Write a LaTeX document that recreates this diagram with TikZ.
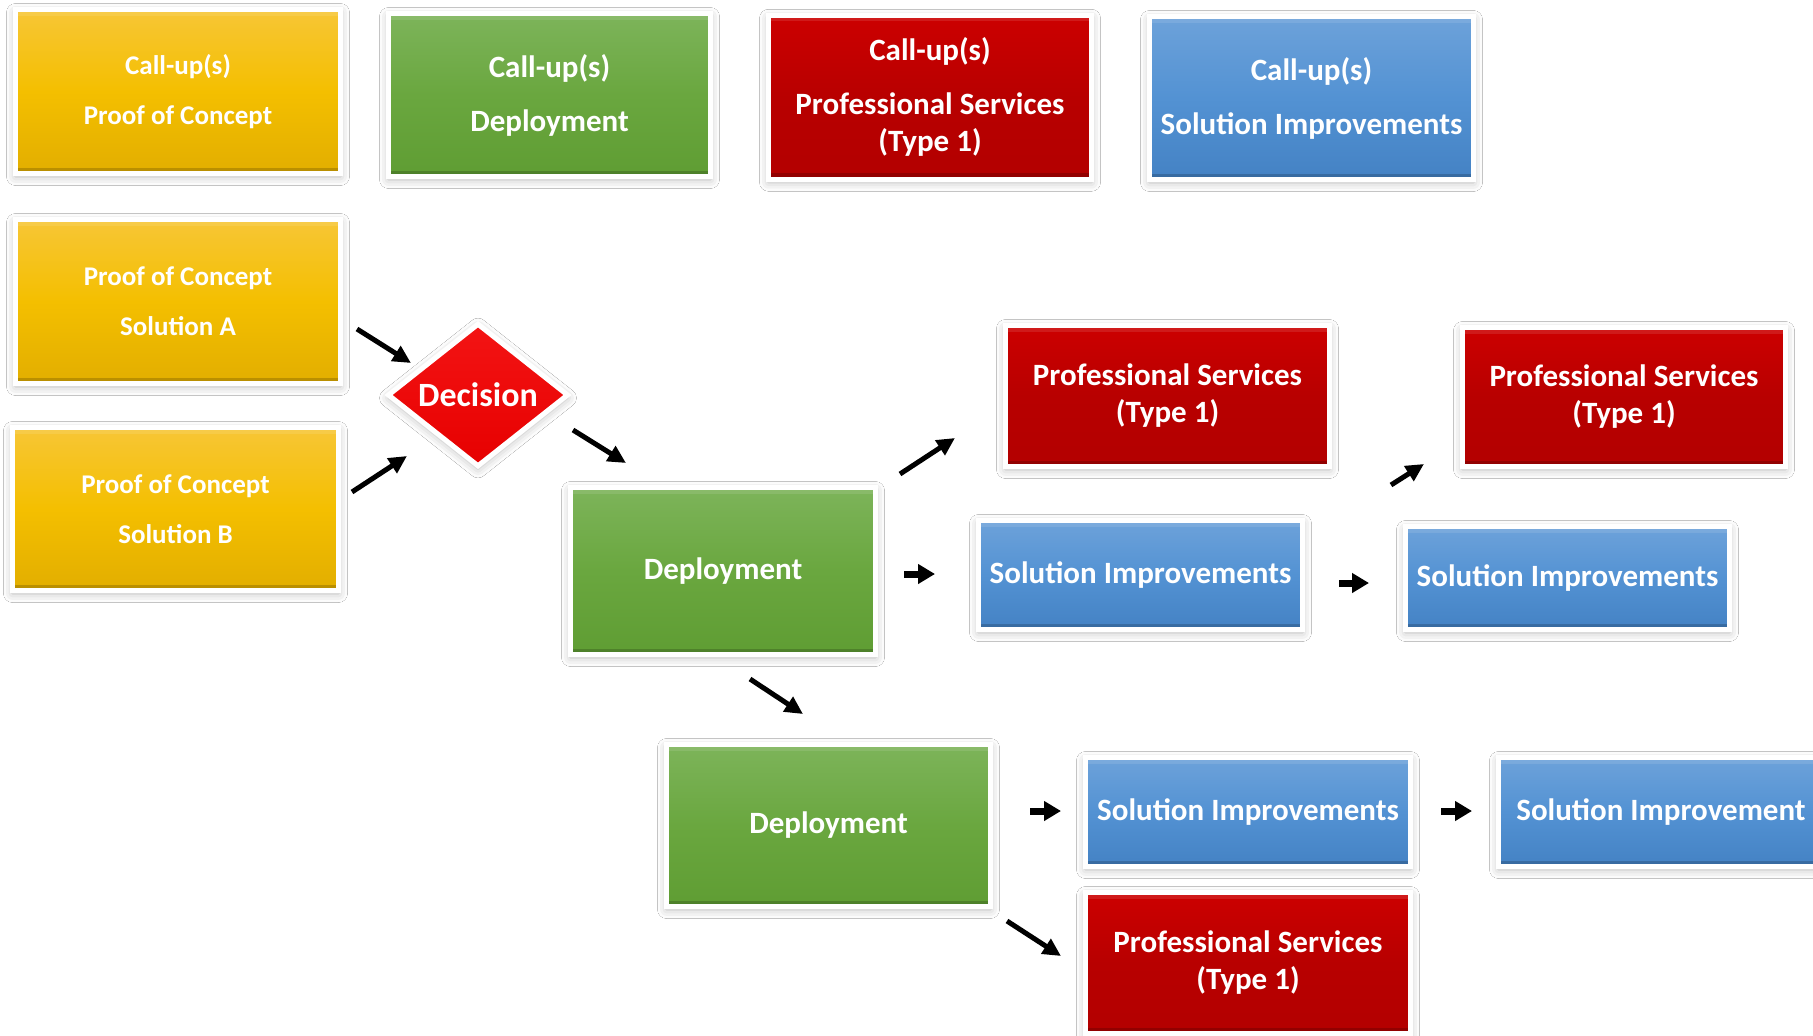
\documentclass[tikz,border=0pt]{standalone}
\usepackage{fontspec}
\setmainfont{Carlito}
\usetikzlibrary{shapes.geometric,arrows.meta,shadows.blur}
\definecolor{yTop}{HTML}{F7C636}
\definecolor{yMid}{HTML}{F4BF00}
\definecolor{yBot}{HTML}{E2AE00}
\definecolor{gTop}{HTML}{7DB45A}
\definecolor{gMid}{HTML}{6AA73F}
\definecolor{gBot}{HTML}{5F9D33}
\definecolor{rTop}{HTML}{CC0000}
\definecolor{rMid}{HTML}{B80000}
\definecolor{rBot}{HTML}{B30000}
\definecolor{bTop}{HTML}{6DA2DA}
\definecolor{bMid}{HTML}{5392D3}
\definecolor{bBot}{HTML}{4482C4}
\definecolor{dTop}{HTML}{F41414}
\definecolor{dBot}{HTML}{E60000}
\tikzset{
  box/.style={rectangle, draw=white, line width=5pt, inner sep=0pt, text=white,
    align=center, font=\bfseries\fontsize{31}{37}\selectfont,
    blur shadow={shadow xshift=0pt, shadow yshift=-3pt, shadow blur radius=9pt, shadow opacity=28},
    path picture={
      \fill[black,opacity=.18] (path picture bounding box.south west) rectangle ([yshift=6pt]path picture bounding box.south east);
      \fill[white,opacity=.10] (path picture bounding box.north west) rectangle ([yshift=-6pt]path picture bounding box.north east);
    }},
  ybox/.style={box, top color=yTop, bottom color=yBot, middle color=yMid, font=\bfseries\fontsize{27}{32}\selectfont},
  gbox/.style={box, top color=gTop, bottom color=gBot, middle color=gMid},
  rbox/.style={box, top color=rTop, bottom color=rBot, middle color=rMid},
  bbox/.style={box, top color=bTop, bottom color=bBot, middle color=bMid},
  decide/.style={diamond, draw=white, line width=5pt, inner sep=0pt, text=white,
    top color=dTop, bottom color=dBot, font=\bfseries\fontsize{34}{40}\selectfont,
    blur shadow={shadow xshift=0pt, shadow yshift=-3pt, shadow blur radius=9pt, shadow opacity=28}},
  arr/.style={line width=5pt, -{Triangle[length=18pt,width=17pt]}},
  harr/.style={line width=7pt, -{Triangle[length=17pt,width=19pt]}}
}
\begin{document}
\begin{tikzpicture}[x=1pt,y=-1pt]
\useasboundingbox (0,0) rectangle (1813,1036);
\fill[white] (0,0) rectangle (1813,1036);
% top row
\node[ybox, minimum width=325, minimum height=164] (cpoc) at (178,91.5) {Call-up(s)\\[18pt]Proof of Concept};
\node[gbox, minimum width=322, minimum height=163] (cdep) at (549.5,95) {Call-up(s)\\[17pt]Deployment};
\node[rbox, minimum width=323, minimum height=164] (cps) at (930,97.3) {Call-up(s)\\[17pt]Professional Services\\(Type 1)};
\node[bbox, minimum width=324, minimum height=163] (csi) at (1311.5,98) {Call-up(s)\\[17pt]Solution Improvements};
% left column
\node[ybox, minimum width=325, minimum height=164] (poca) at (178,301.5) {Proof of Concept\\[18pt]Solution A};
\node[ybox, minimum width=326, minimum height=163] (pocb) at (175.5,509) {Proof of Concept\\[18pt]Solution B};
\node[decide, minimum width=181, minimum height=114] (dec) at (478,395) {Decision};
% middle
\node[gbox, minimum width=305, minimum height=167] (dep1) at (723,571) {Deployment};
\node[rbox, minimum width=324, minimum height=141] (ps1) at (1167.5,396) {Professional Services\\(Type 1)};
\node[bbox, minimum width=324, minimum height=109] (si1) at (1140.5,575) {Solution Improvements};
\node[rbox, minimum width=323, minimum height=139] (ps2) at (1624,397) {Professional Services\\(Type 1)};
\node[bbox, minimum width=324, minimum height=103] (si2) at (1567.5,578) {Solution Improvements};
% bottom
\node[gbox, minimum width=324, minimum height=162] (dep2) at (828.5,825.5) {Deployment};
\node[bbox, minimum width=325, minimum height=109] (si3) at (1248,812) {Solution Improvements};
\node[bbox, minimum width=325, minimum height=109] (si4) at (1661,812) {Solution Improvement};
\node[rbox, minimum width=325, minimum height=141] (ps3) at (1248,963) {Professional Services\\(Type 1)};
% arrows
\coordinate (a1s) at (357,329); \coordinate (a1e) at (411,363);
\coordinate (a2s) at (352,492); \coordinate (a2e) at (407,456);
\coordinate (a3s) at (573,430); \coordinate (a3e) at (626,463);
\coordinate (a4s) at (900,474); \coordinate (a4e) at (955,438);
\coordinate (a5s) at (904,574); \coordinate (a5e) at (935,574);
\coordinate (a6s) at (1339,583); \coordinate (a6e) at (1369,583);
\coordinate (a7s) at (1391,485); \coordinate (a7e) at (1424,464);
\coordinate (a8s) at (750,679); \coordinate (a8e) at (803,714);
\coordinate (a9s) at (1030,811); \coordinate (a9e) at (1061,811);
\coordinate (a10s) at (1441,811); \coordinate (a10e) at (1472,811);
\coordinate (a11s) at (1007,921); \coordinate (a11e) at (1061,956);
\draw[arr] (a1s) -- (a1e);
\draw[arr] (a2s) -- (a2e);
\draw[arr] (a3s) -- (a3e);
\draw[arr] (a4s) -- (a4e);
\draw[harr] (a5s) -- (a5e);
\draw[harr] (a6s) -- (a6e);
\draw[arr] (a7s) -- (a7e);
\draw[arr] (a8s) -- (a8e);
\draw[harr] (a9s) -- (a9e);
\draw[harr] (a10s) -- (a10e);
\draw[arr] (a11s) -- (a11e);
\end{tikzpicture}
\end{document}
